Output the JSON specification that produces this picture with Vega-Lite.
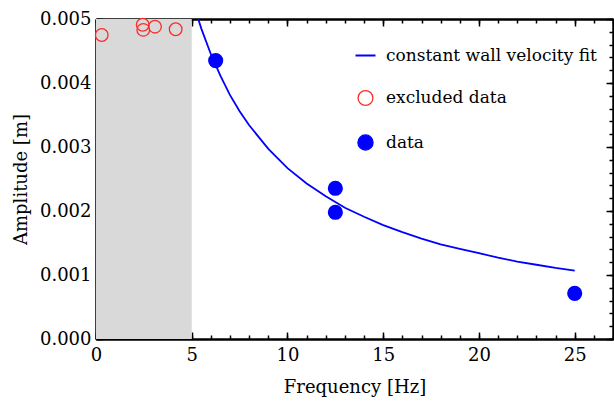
{
  "$schema": "https://vega.github.io/schema/vega-lite/v6.json",
  "width": 517,
  "height": 320,
  "autosize": {"type": "none"},
  "padding": {"left": 96, "top": 19, "right": 1, "bottom": 66},
  "background": "white",
  "config": {
    "view": {"stroke": null},
    "font": "DejaVu Serif",
    "axis": {"labelFont": "DejaVu Serif", "titleFont": "DejaVu Serif", "labelFontSize": 18, "titleFontSize": 18, "labelColor": "black", "titleColor": "black"},
    "legend": {"labelFont": "DejaVu Serif", "labelFontSize": 17}
  },
  "datasets": {
    "shade": [{"f0": 0, "f1": 5, "a0": 0, "a1": 0.005}],
    "fit": [
      {"f": 5.34, "a": 0.005, "series": "constant wall velocity fit"},
      {"f": 5.5, "a": 0.00485, "series": "constant wall velocity fit"},
      {"f": 6, "a": 0.00445, "series": "constant wall velocity fit"},
      {"f": 6.5, "a": 0.00411, "series": "constant wall velocity fit"},
      {"f": 7, "a": 0.00381, "series": "constant wall velocity fit"},
      {"f": 7.5, "a": 0.00356, "series": "constant wall velocity fit"},
      {"f": 8, "a": 0.00334, "series": "constant wall velocity fit"},
      {"f": 9, "a": 0.00297, "series": "constant wall velocity fit"},
      {"f": 10, "a": 0.00267, "series": "constant wall velocity fit"},
      {"f": 11, "a": 0.00243, "series": "constant wall velocity fit"},
      {"f": 12, "a": 0.00223, "series": "constant wall velocity fit"},
      {"f": 13, "a": 0.00205, "series": "constant wall velocity fit"},
      {"f": 14, "a": 0.00191, "series": "constant wall velocity fit"},
      {"f": 15, "a": 0.00178, "series": "constant wall velocity fit"},
      {"f": 16, "a": 0.00167, "series": "constant wall velocity fit"},
      {"f": 17, "a": 0.00157, "series": "constant wall velocity fit"},
      {"f": 18, "a": 0.00148, "series": "constant wall velocity fit"},
      {"f": 19, "a": 0.00141, "series": "constant wall velocity fit"},
      {"f": 20, "a": 0.00134, "series": "constant wall velocity fit"},
      {"f": 21, "a": 0.00127, "series": "constant wall velocity fit"},
      {"f": 22, "a": 0.00121, "series": "constant wall velocity fit"},
      {"f": 23, "a": 0.00116, "series": "constant wall velocity fit"},
      {"f": 24, "a": 0.00111, "series": "constant wall velocity fit"},
      {"f": 25, "a": 0.00107, "series": "constant wall velocity fit"}
    ],
    "excluded": [
      {"f": 0.3, "a": 0.00475, "series": "excluded data"},
      {"f": 2.44, "a": 0.00491, "series": "excluded data"},
      {"f": 2.47, "a": 0.00483, "series": "excluded data"},
      {"f": 3.08, "a": 0.00488, "series": "excluded data"},
      {"f": 4.16, "a": 0.00484, "series": "excluded data"}
    ],
    "data": [
      {"f": 6.25, "a": 0.00435, "series": "data"},
      {"f": 12.5, "a": 0.002355, "series": "data"},
      {"f": 12.5, "a": 0.00198, "series": "data"},
      {"f": 25, "a": 0.000714, "series": "data"}
    ]
  },
  "resolve": {"axis": {"x": "independent", "y": "independent"}},
  "layer": [
    {
      "data": {"name": "shade"},
      "mark": {"type": "rect", "color": "#d9d9d9"},
      "encoding": {
        "x": {"field": "f0", "type": "quantitative",
          "scale": {"domain": [0, 27], "nice": false, "zero": false},
          "axis": {"orient": "bottom", "values": [0, 5, 10, 15, 20, 25], "title": "Frequency [Hz]",
            "titleFontSize": 18, "titleFontWeight": "normal", "titleColor": "black", "titlePadding": 14,
            "labelFontSize": 18, "labelColor": "black", "labelPadding": 14,
            "tickSize": -7, "tickWidth": 1.5, "tickColor": "black", "domainColor": "black", "domainWidth": 2, "grid": false, "labelFlush": false}},
        "x2": {"field": "f1"},
        "y": {"field": "a0", "type": "quantitative",
          "scale": {"domain": [0, 0.005], "nice": false, "zero": false},
          "axis": {"orient": "left", "values": [0, 0.001, 0.002, 0.003, 0.004, 0.005], "format": ".3f", "title": "Amplitude [m]",
            "titleFontSize": 18, "titleFontWeight": "normal", "titleColor": "black", "titlePadding": 9,
            "labelFontSize": 18, "labelColor": "black", "labelPadding": 12,
            "tickSize": -7, "tickWidth": 1.5, "tickColor": "black", "domainColor": "black", "domainWidth": 2, "grid": false, "labelFlush": false}},
        "y2": {"field": "a1"}
      }
    },
    {
      "data": {"name": "fit"},
      "mark": {"type": "line", "strokeWidth": 1.8},
      "encoding": {
        "x": {"field": "f", "type": "quantitative",
          "axis": {"orient": "bottom", "values": [0,1,2,3,4,5,6,7,8,9,10,11,12,13,14,15,16,17,18,19,20,21,22,23,24,25,26,27],
            "labels": false, "title": null, "tickSize": -4, "tickWidth": 1.5, "tickColor": "black", "domainColor": "black", "domainWidth": 2, "grid": false}},
        "y": {"field": "a", "type": "quantitative",
          "axis": {"orient": "left", "values": [0,0.0002,0.0004,0.0006,0.0008,0.001,0.0012,0.0014,0.0016,0.0018,0.002,0.0022,0.0024,0.0026,0.0028,0.003,0.0032,0.0034,0.0036,0.0038,0.004,0.0042,0.0044,0.0046,0.0048,0.005],
            "labels": false, "title": null, "tickSize": -4, "tickWidth": 1.5, "tickColor": "black", "domainColor": "black", "domainWidth": 2, "grid": false}},
        "color": {"field": "series", "type": "nominal",
          "scale": {"domain": ["constant wall velocity fit", "excluded data", "data"], "range": ["#0000ff", "#ff2a2a", "#0000ff"]},
          "legend": {"orient": "none", "legendX": 261, "legendY": 28, "title": null, "padding": 0,
            "labelFontSize": 17, "labelColor": "black", "labelLimit": 400,
            "rowPadding": 23.5, "symbolSize": 250, "labelOffset": 12,
            "encode": {"symbols": {"update": {
              "shape": {"signal": "datum.value === 'constant wall velocity fit' ? 'stroke' : 'circle'"},
              "fill": {"signal": "datum.value === 'data' ? '#0000ff' : 'transparent'"},
              "fillOpacity": {"signal": "datum.value === 'data' ? 1 : 0"},
              "stroke": {"signal": "datum.value === 'excluded data' ? '#ff2a2a' : '#0000ff'"},
              "strokeWidth": {"signal": "datum.value === 'constant wall velocity fit' ? 2 : 1.3"},
              "size": {"signal": "datum.value === 'data' ? 230 : (datum.value === 'excluded data' ? 220 : 400)"},
              "opacity": {"value": 1}
            }}}}
        }
      }
    },
    {
      "data": {"name": "excluded"},
      "mark": {"type": "point", "filled": false, "strokeWidth": 1.3, "size": 160, "opacity": 1},
      "encoding": {
        "x": {"field": "f", "type": "quantitative",
          "axis": {"orient": "top", "values": [0, 5, 10, 15, 20, 25], "labels": false, "title": null,
            "tickSize": -7, "tickWidth": 1.5, "tickColor": "black", "domainColor": "black", "domainWidth": 2, "grid": false}},
        "y": {"field": "a", "type": "quantitative",
          "axis": {"orient": "right", "values": [0, 0.001, 0.002, 0.003, 0.004, 0.005], "labels": false, "title": null,
            "tickSize": -7, "tickWidth": 1.5, "tickColor": "black", "domainColor": "black", "domainWidth": 2, "grid": false}},
        "color": {"field": "series", "type": "nominal"}
      }
    },
    {
      "data": {"name": "data"},
      "mark": {"type": "point", "filled": true, "size": 230, "opacity": 1},
      "encoding": {
        "x": {"field": "f", "type": "quantitative",
          "axis": {"orient": "top", "values": [0,1,2,3,4,5,6,7,8,9,10,11,12,13,14,15,16,17,18,19,20,21,22,23,24,25,26,27],
            "labels": false, "title": null, "tickSize": -4, "tickWidth": 1.5, "tickColor": "black", "domainColor": "black", "domainWidth": 2, "grid": false}},
        "y": {"field": "a", "type": "quantitative",
          "axis": {"orient": "right", "values": [0,0.0002,0.0004,0.0006,0.0008,0.001,0.0012,0.0014,0.0016,0.0018,0.002,0.0022,0.0024,0.0026,0.0028,0.003,0.0032,0.0034,0.0036,0.0038,0.004,0.0042,0.0044,0.0046,0.0048,0.005],
            "labels": false, "title": null, "tickSize": -4, "tickWidth": 1.5, "tickColor": "black", "domainColor": "black", "domainWidth": 2, "grid": false}},
        "color": {"field": "series", "type": "nominal"}
      }
    }
  ]
}
